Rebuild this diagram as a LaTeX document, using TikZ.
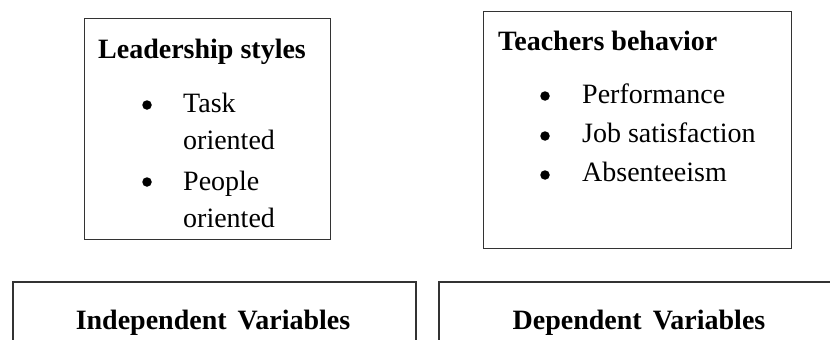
\documentclass[tikz,border=0pt]{standalone}
\usepackage{fontspec}
\setmainfont{Liberation Serif}
\begin{document}
\begin{tikzpicture}[x=1pt,y=-1pt,
  box/.style={draw=black!80, line width=1.3pt, inner sep=0pt, anchor=north west},
  txt/.style={inner sep=0pt, anchor=base west, font=\fontsize{28}{34}\selectfont},
  head/.style={inner sep=0pt, anchor=base west, font=\fontsize{28}{34}\selectfont\bfseries},
  bhead/.style={inner sep=0pt, anchor=base, font=\fontsize{28}{34}\selectfont\bfseries},
  bul/.style={circle, fill=black, inner sep=0pt, minimum size=9.5pt}]
\useasboundingbox (0,0) rectangle (830,340);
\clip (0,0) rectangle (830,340);
% top left box
\node[box, minimum width=246pt, minimum height=221pt] (lbox) at (84,18) {};
\node[head] (lhead) at (98,58) {Leadership styles};
\node[bul] (lb1) at (147,105) {};
\node[txt] (lt1) at (183,112) {Task};
\node[txt] (lt2) at (183,149) {oriented};
\node[bul] (lb2) at (147,182) {};
\node[txt] (lt3) at (183,190) {People};
\node[txt] (lt4) at (183,227) {oriented};
% top right box
\node[box, minimum width=308pt, minimum height=237pt] (rbox) at (483,11) {};
\node[head] (rhead) at (498,50) {Teachers behavior};
\node[bul] (rb1) at (545,96) {};
\node[txt] (rt1) at (582,103) {Performance};
\node[bul] (rb2) at (545,136) {};
\node[txt] (rt2) at (582,142) {Job satisfaction};
\node[bul] (rb3) at (545,175) {};
\node[txt] (rt3) at (582,181) {Absenteeism};
% bottom boxes (cut off by the picture edge)
\draw[draw=black!80, line width=1.3pt] (13,360) -- (13,282) -- (416,282) -- (416,360);
\draw[draw=black!80, line width=1.3pt] (439,360) -- (439,282) -- (850,282);
\node[bhead] (ivar) at (213,329) {Independent\hspace{4pt} Variables};
\node[bhead] (dvar) at (639,329) {Dependent\hspace{4pt} Variables};
\end{tikzpicture}
\end{document}
